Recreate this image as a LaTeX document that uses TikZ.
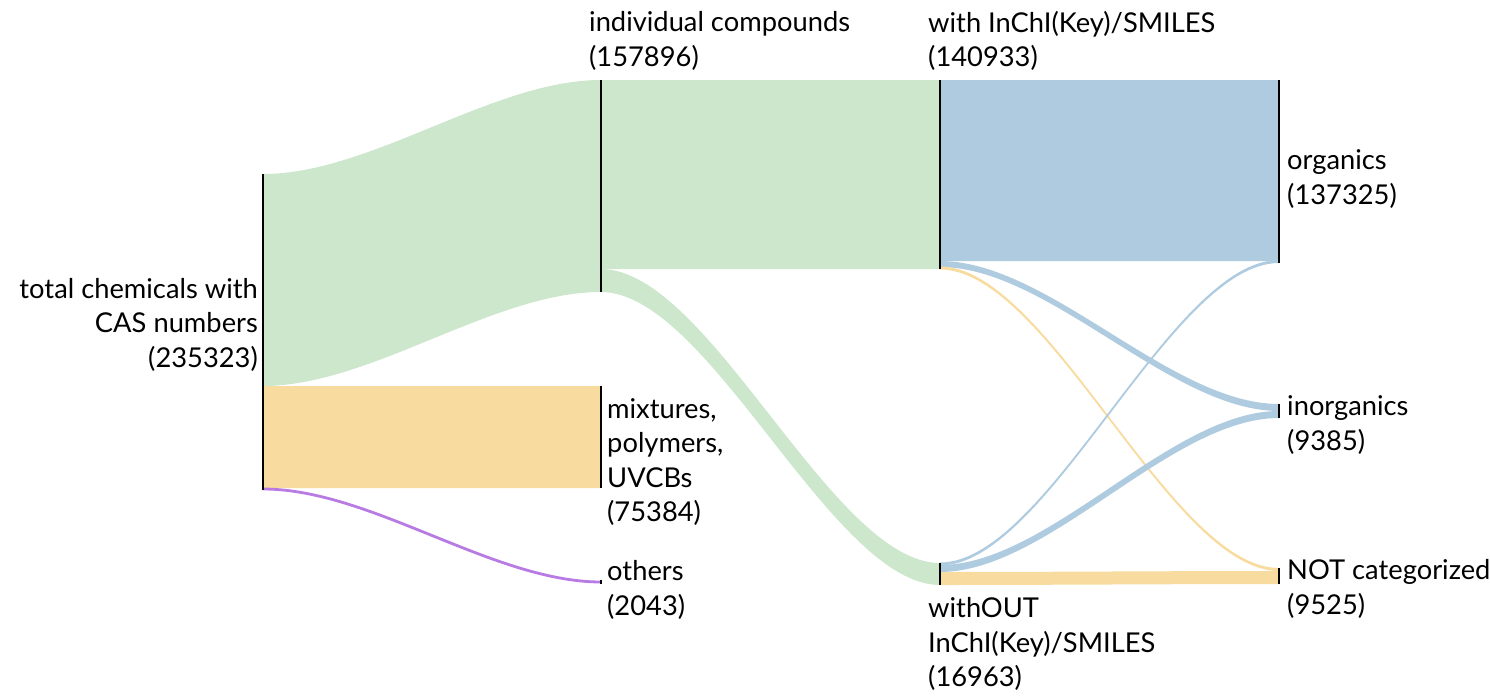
\documentclass[tikz,border=0pt]{standalone}
\usepackage{fontspec}
\setmainfont{Lato}
\definecolor{fgreen}{HTML}{CDE7CD}
\definecolor{forange}{HTML}{F8DB9F}
\definecolor{fblue}{HTML}{AFCBE0}
\definecolor{fpurple}{HTML}{B87BE3}
% sankey band: colour, x1, y1 top, y1 bottom, x2, y2 top, y2 bottom
\newcommand\sflow[7]{\fill[#1] (#2,#3) .. controls ({#2+0.32*(#5-#2)},#3) and ({#5-0.32*(#5-#2)},#6) .. (#5,#6) -- (#5,#7) .. controls ({#5-0.32*(#5-#2)},#7) and ({#2+0.32*(#5-#2)},#4) .. (#2,#4) -- cycle;}
\tikzset{
  bar/.style={line width=2pt, black},
  lbl/.style={font=\fontsize{27.3}{34.5}\selectfont, align=left, inner sep=0pt, text=black},
}
\begin{document}
\begin{tikzpicture}[x=1pt,y=-1pt]
\useasboundingbox (0,0) rectangle (1490,696);
% flows
\sflow{fgreen}{263}{174}{386}{601}{80}{292}
\sflow{forange}{263}{386}{488}{601}{386}{488}
\sflow{fgreen}{601}{80}{269}{940}{80}{269}
\sflow{fgreen}{601}{269}{292}{940}{563}{585}
\sflow{fblue}{940}{80}{261}{1279}{80}{261}
\sflow{fblue}{940}{261}{267}{1279}{404}{411}
\sflow{forange}{940}{266.5}{269.5}{1279}{568}{571}
\sflow{fblue}{940}{562.5}{565.5}{1279}{260}{263}
\sflow{fblue}{940}{565}{572}{1279}{411}{418}
\sflow{forange}{940}{572}{585}{1279}{571}{584}
\draw[fpurple, line width=2.8pt] (263,489) .. controls (371,489) and (493,582) .. (601,582);
% node bars
\coordinate (A1) at (263,174); \coordinate (A2) at (263,490);
\coordinate (B1) at (601,80);  \coordinate (B2) at (601,292);
\coordinate (C1) at (601,386); \coordinate (C2) at (601,488);
\coordinate (D1) at (601,580); \coordinate (D2) at (601,584);
\coordinate (E1) at (940,80);  \coordinate (E2) at (940,269);
\coordinate (F1) at (940,563); \coordinate (F2) at (940,585);
\coordinate (G1) at (1279,80); \coordinate (G2) at (1279,263);
\coordinate (H1) at (1279,404);\coordinate (H2) at (1279,418);
\coordinate (I1) at (1279,568);\coordinate (I2) at (1279,584);
\foreach \n in {A,B,C,D,E,F,G,H,I} \draw[bar] (\n1) -- (\n2);
% labels
\node[lbl, anchor=east] (tA) at (258,326) {\begin{tabular}{@{}r@{}}total chemicals with\\CAS numbers\\(235323)\end{tabular}};
\node[lbl, anchor=west] (tB) at (589,41) {individual compounds\\(157896)};
\node[lbl, anchor=west] (tC) at (607,462) {mixtures,\\polymers,\\UVCBs\\(75384)};
\node[lbl, anchor=west] (tD) at (607,590) {others\\(2043)};
\node[lbl, anchor=west] (tE) at (928,41) {with InChI(Key)/SMILES\\(140933)};
\node[lbl, anchor=west] (tF) at (928,644) {withOUT\\InChI(Key)/SMILES\\(16963)};
\node[lbl, anchor=west] (tG) at (1287,179) {organics\\(137325)};
\node[lbl, anchor=west] (tH) at (1287,425) {inorganics\\(9385)};
\node[lbl, anchor=west] (tI) at (1287,589) {NOT categorized\\(9525)};
\end{tikzpicture}
\end{document}
